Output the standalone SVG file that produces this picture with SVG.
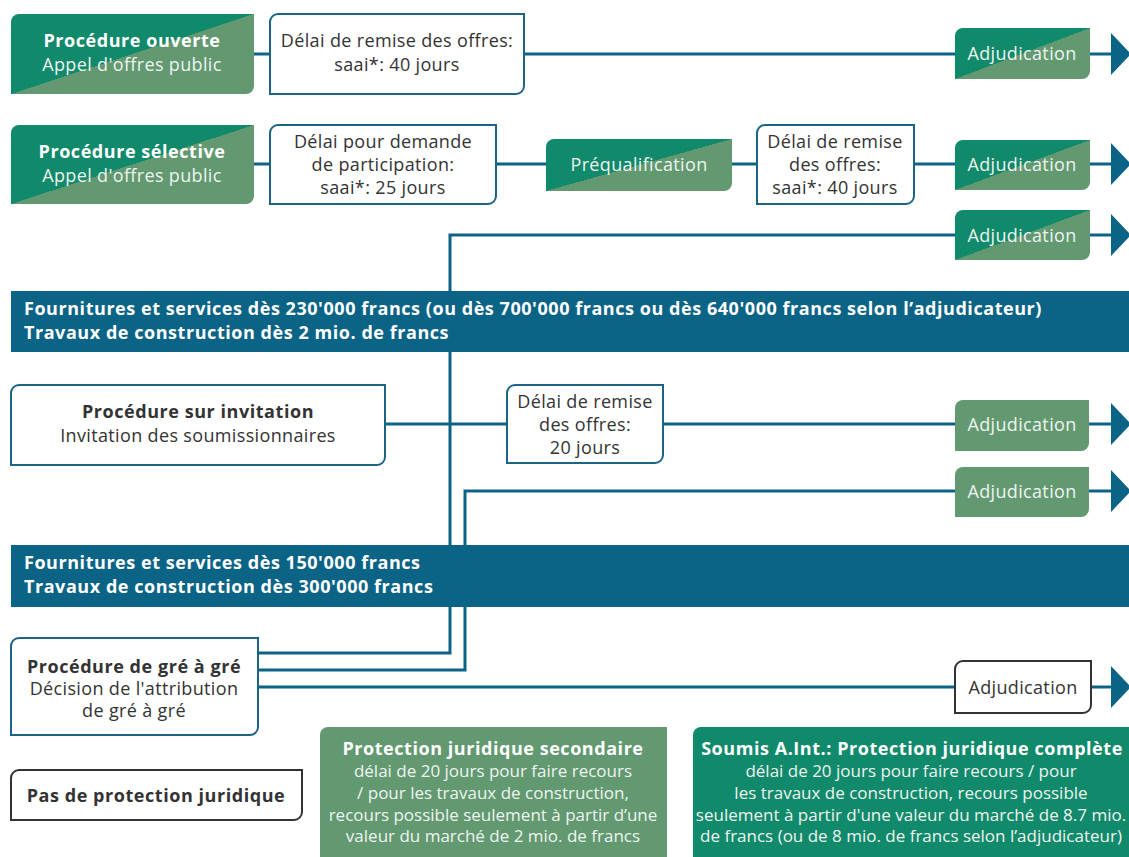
<svg xmlns="http://www.w3.org/2000/svg" width="1129" height="857" viewBox="0 0 1129 857">
<defs>
<linearGradient id="split" x1="0" y1="0" x2="1" y2="1">
<stop offset="0.5" stop-color="#11896b"/>
<stop offset="0.5" stop-color="#629971"/>
</linearGradient>
<marker id="arr" markerUnits="userSpaceOnUse" markerWidth="22" markerHeight="44" refX="0" refY="21" orient="auto">
<path d="M0,0 L20,21 L0,42 Z" fill="#0b6385"/>
</marker>
<style>
.ln{stroke:#0b6385;stroke-width:3;fill:none}
.ar{stroke:#0b6385;stroke-width:3;fill:none;marker-end:url(#arr)}
.wb{fill:#fff;stroke:#1b6584;stroke-width:2}
.kb{fill:#fff;stroke:#333;stroke-width:2}
.gb{fill:url(#split)}
.sb{fill:#629971}
.db{fill:#11896b}
.bar{fill:#0b6385}
.t{font-family:"Open Sans","DejaVu Sans",sans-serif;font-size:18px;letter-spacing:0.35px;fill:#333;text-anchor:middle}
.s{font-size:17px;letter-spacing:0}
.b{font-weight:bold;letter-spacing:0.55px}
.w{fill:#fff}
.lw{fill:#eef4f0}
.bt{font-family:"Open Sans","DejaVu Sans",sans-serif;font-size:18px;letter-spacing:0.55px;font-weight:bold;fill:#fff}
</style>
</defs>

<g id="connectors">
<line class="ln" x1="254" y1="54" x2="270" y2="54"/>
<line class="ln" x1="524" y1="54" x2="955" y2="54"/>
<line class="ar" x1="1090" y1="54" x2="1111" y2="54"/>
<line class="ln" x1="254" y1="164" x2="270" y2="164"/>
<line class="ln" x1="496" y1="164" x2="546" y2="164"/>
<line class="ln" x1="732" y1="164" x2="757" y2="164"/>
<line class="ln" x1="914" y1="164" x2="955" y2="164"/>
<line class="ar" x1="1090" y1="164" x2="1111" y2="164"/>
<path class="ln" d="M258,653 H450 V235 H955"/>
<line class="ar" x1="1090" y1="235" x2="1111" y2="235"/>
<line class="ln" x1="385" y1="424" x2="507" y2="424"/>
<line class="ln" x1="663" y1="424" x2="955" y2="424"/>
<line class="ar" x1="1089" y1="424" x2="1111" y2="424"/>
<path class="ln" d="M258,670 H465 V491 H955"/>
<line class="ar" x1="1089" y1="491" x2="1111" y2="491"/>
<line class="ln" x1="258" y1="687" x2="955" y2="687"/>
<line class="ar" x1="1091" y1="687" x2="1111" y2="687"/>
</g>

<g id="bar-230000">
<rect class="bar" x="11" y="291" width="1118" height="61"/>
<text class="bt" x="24" y="315">Fournitures et services dès 230'000 francs (ou dès 700'000 francs ou dès 640'000 francs selon l’adjudicateur)</text>
<text class="bt" x="24" y="339">Travaux de construction dès 2 mio. de francs</text>
</g>

<g id="bar-150000">
<rect class="bar" x="11" y="545" width="1118" height="62"/>
<text class="bt" x="24" y="569">Fournitures et services dès 150'000 francs</text>
<text class="bt" x="24" y="593">Travaux de construction dès 300'000 francs</text>
</g>

<g id="proc-ouverte">
<path class="gb" d="M19,14 H254 V86 A8,8 0 0 1 246,94 H11 V22 A8,8 0 0 1 19,14 Z"/>
<text class="t b w" x="132" y="47">Procédure ouverte</text>
<text class="t lw" x="132" y="71">Appel d'offres public</text>
</g>

<g id="delai-ouverte">
<path class="wb" d="M278,14 H524 V86 A8,8 0 0 1 516,94 H270 V22 A8,8 0 0 1 278,14 Z"/>
<text class="t" x="397" y="47">Délai de remise des offres:</text>
<text class="t" x="397" y="71">saai*: 40 jours</text>
</g>

<g id="adj-1">
<path class="gb" d="M963,28 H1090 V71 A8,8 0 0 1 1082,79 H955 V36 A8,8 0 0 1 963,28 Z"/>
<text class="t lw" x="1022" y="60">Adjudication</text>
</g>

<g id="proc-selective">
<path class="gb" d="M19,125 H254 V196 A8,8 0 0 1 246,204 H11 V133 A8,8 0 0 1 19,125 Z"/>
<text class="t b w" x="132" y="158">Procédure sélective</text>
<text class="t lw" x="132" y="182">Appel d'offres public</text>
</g>

<g id="delai-participation">
<path class="wb" d="M278,125 H496 V196 A8,8 0 0 1 488,204 H270 V133 A8,8 0 0 1 278,125 Z"/>
<text class="t" x="383" y="148">Délai pour demande</text>
<text class="t" x="383" y="171">de participation:</text>
<text class="t" x="383" y="194">saai*: 25 jours</text>
</g>

<g id="prequalification">
<path class="gb" d="M554,139 H732 V183 A8,8 0 0 1 724,191 H546 V147 A8,8 0 0 1 554,139 Z"/>
<text class="t lw" x="639" y="171">Préqualification</text>
</g>

<g id="delai-selective">
<path class="wb" d="M765,125 H914 V196 A8,8 0 0 1 906,204 H757 V133 A8,8 0 0 1 765,125 Z"/>
<text class="t" x="835" y="148">Délai de remise</text>
<text class="t" x="835" y="171">des offres:</text>
<text class="t" x="835" y="194">saai*: 40 jours</text>
</g>

<g id="adj-2">
<path class="gb" d="M963,140 H1090 V182 A8,8 0 0 1 1082,190 H955 V148 A8,8 0 0 1 963,140 Z"/>
<text class="t lw" x="1022" y="171">Adjudication</text>
</g>

<g id="adj-3">
<path class="gb" d="M963,210 H1090 V252 A8,8 0 0 1 1082,260 H955 V218 A8,8 0 0 1 963,210 Z"/>
<text class="t lw" x="1022" y="242">Adjudication</text>
</g>

<g id="proc-invitation">
<path class="wb" d="M19,385 H385 V457 A8,8 0 0 1 377,465 H11 V393 A8,8 0 0 1 19,385 Z"/>
<text class="t b" x="198" y="418">Procédure sur invitation</text>
<text class="t" x="198" y="442">Invitation des soumissionnaires</text>
</g>

<g id="delai-invitation">
<path class="wb" d="M515,385 H663 V455 A8,8 0 0 1 655,463 H507 V393 A8,8 0 0 1 515,385 Z"/>
<text class="t" x="585" y="408">Délai de remise</text>
<text class="t" x="585" y="431">des offres:</text>
<text class="t" x="585" y="454">20 jours</text>
</g>

<g id="adj-4">
<path class="sb" d="M963,400 H1089 V443 A8,8 0 0 1 1081,451 H955 V408 A8,8 0 0 1 963,400 Z"/>
<text class="t lw" x="1022" y="431">Adjudication</text>
</g>

<g id="adj-5">
<path class="sb" d="M963,467 H1089 V509 A8,8 0 0 1 1081,517 H955 V475 A8,8 0 0 1 963,467 Z"/>
<text class="t lw" x="1022" y="498">Adjudication</text>
</g>

<g id="proc-gre-a-gre">
<path class="wb" d="M19,638 H258 V727 A8,8 0 0 1 250,735 H11 V646 A8,8 0 0 1 19,638 Z"/>
<text class="t b" x="134" y="673">Procédure de gré à gré</text>
<text class="t" x="134" y="695">Décision de l'attribution</text>
<text class="t" x="134" y="717">de gré à gré</text>
</g>

<g id="adj-6">
<path class="kb" d="M963,661 H1091 V705 A8,8 0 0 1 1083,713 H955 V669 A8,8 0 0 1 963,661 Z"/>
<text class="t" x="1023" y="694">Adjudication</text>
</g>

<g id="pas-de-protection">
<path class="kb" d="M19,770 H302 V812 A8,8 0 0 1 294,820 H11 V778 A8,8 0 0 1 19,770 Z"/>
<text class="t b" x="156" y="802">Pas de protection juridique</text>
</g>

<g id="protection-secondaire">
<path class="sb" d="M328,727 H667 V857 H320 V735 A8,8 0 0 1 328,727 Z"/>
<text class="t b w" x="493" y="755">Protection juridique secondaire</text>
<text class="t s lw" x="493" y="777">délai de 20 jours pour faire recours</text>
<text class="t s lw" x="493" y="799">/ pour les travaux de construction,</text>
<text class="t s lw" x="493" y="821">recours possible seulement à partir d’une</text>
<text class="t s lw" x="493" y="842">valeur du marché de 2 mio. de francs</text>
</g>

<g id="protection-complete">
<path class="db" d="M701,727 H1129 V857 H693 V735 A8,8 0 0 1 701,727 Z"/>
<text class="t b w" x="912" y="755">Soumis A.Int.: Protection juridique complète</text>
<text class="t s lw" x="911" y="777">délai de 20 jours pour faire recours / pour</text>
<text class="t s lw" x="911" y="799">les travaux de construction, recours possible</text>
<text class="t s lw" x="911" y="821">seulement à partir d'une valeur du marché de 8.7 mio.</text>
<text class="t s lw" x="911" y="842">de francs (ou de 8 mio. de francs selon l’adjudicateur)</text>
</g>
</svg>
